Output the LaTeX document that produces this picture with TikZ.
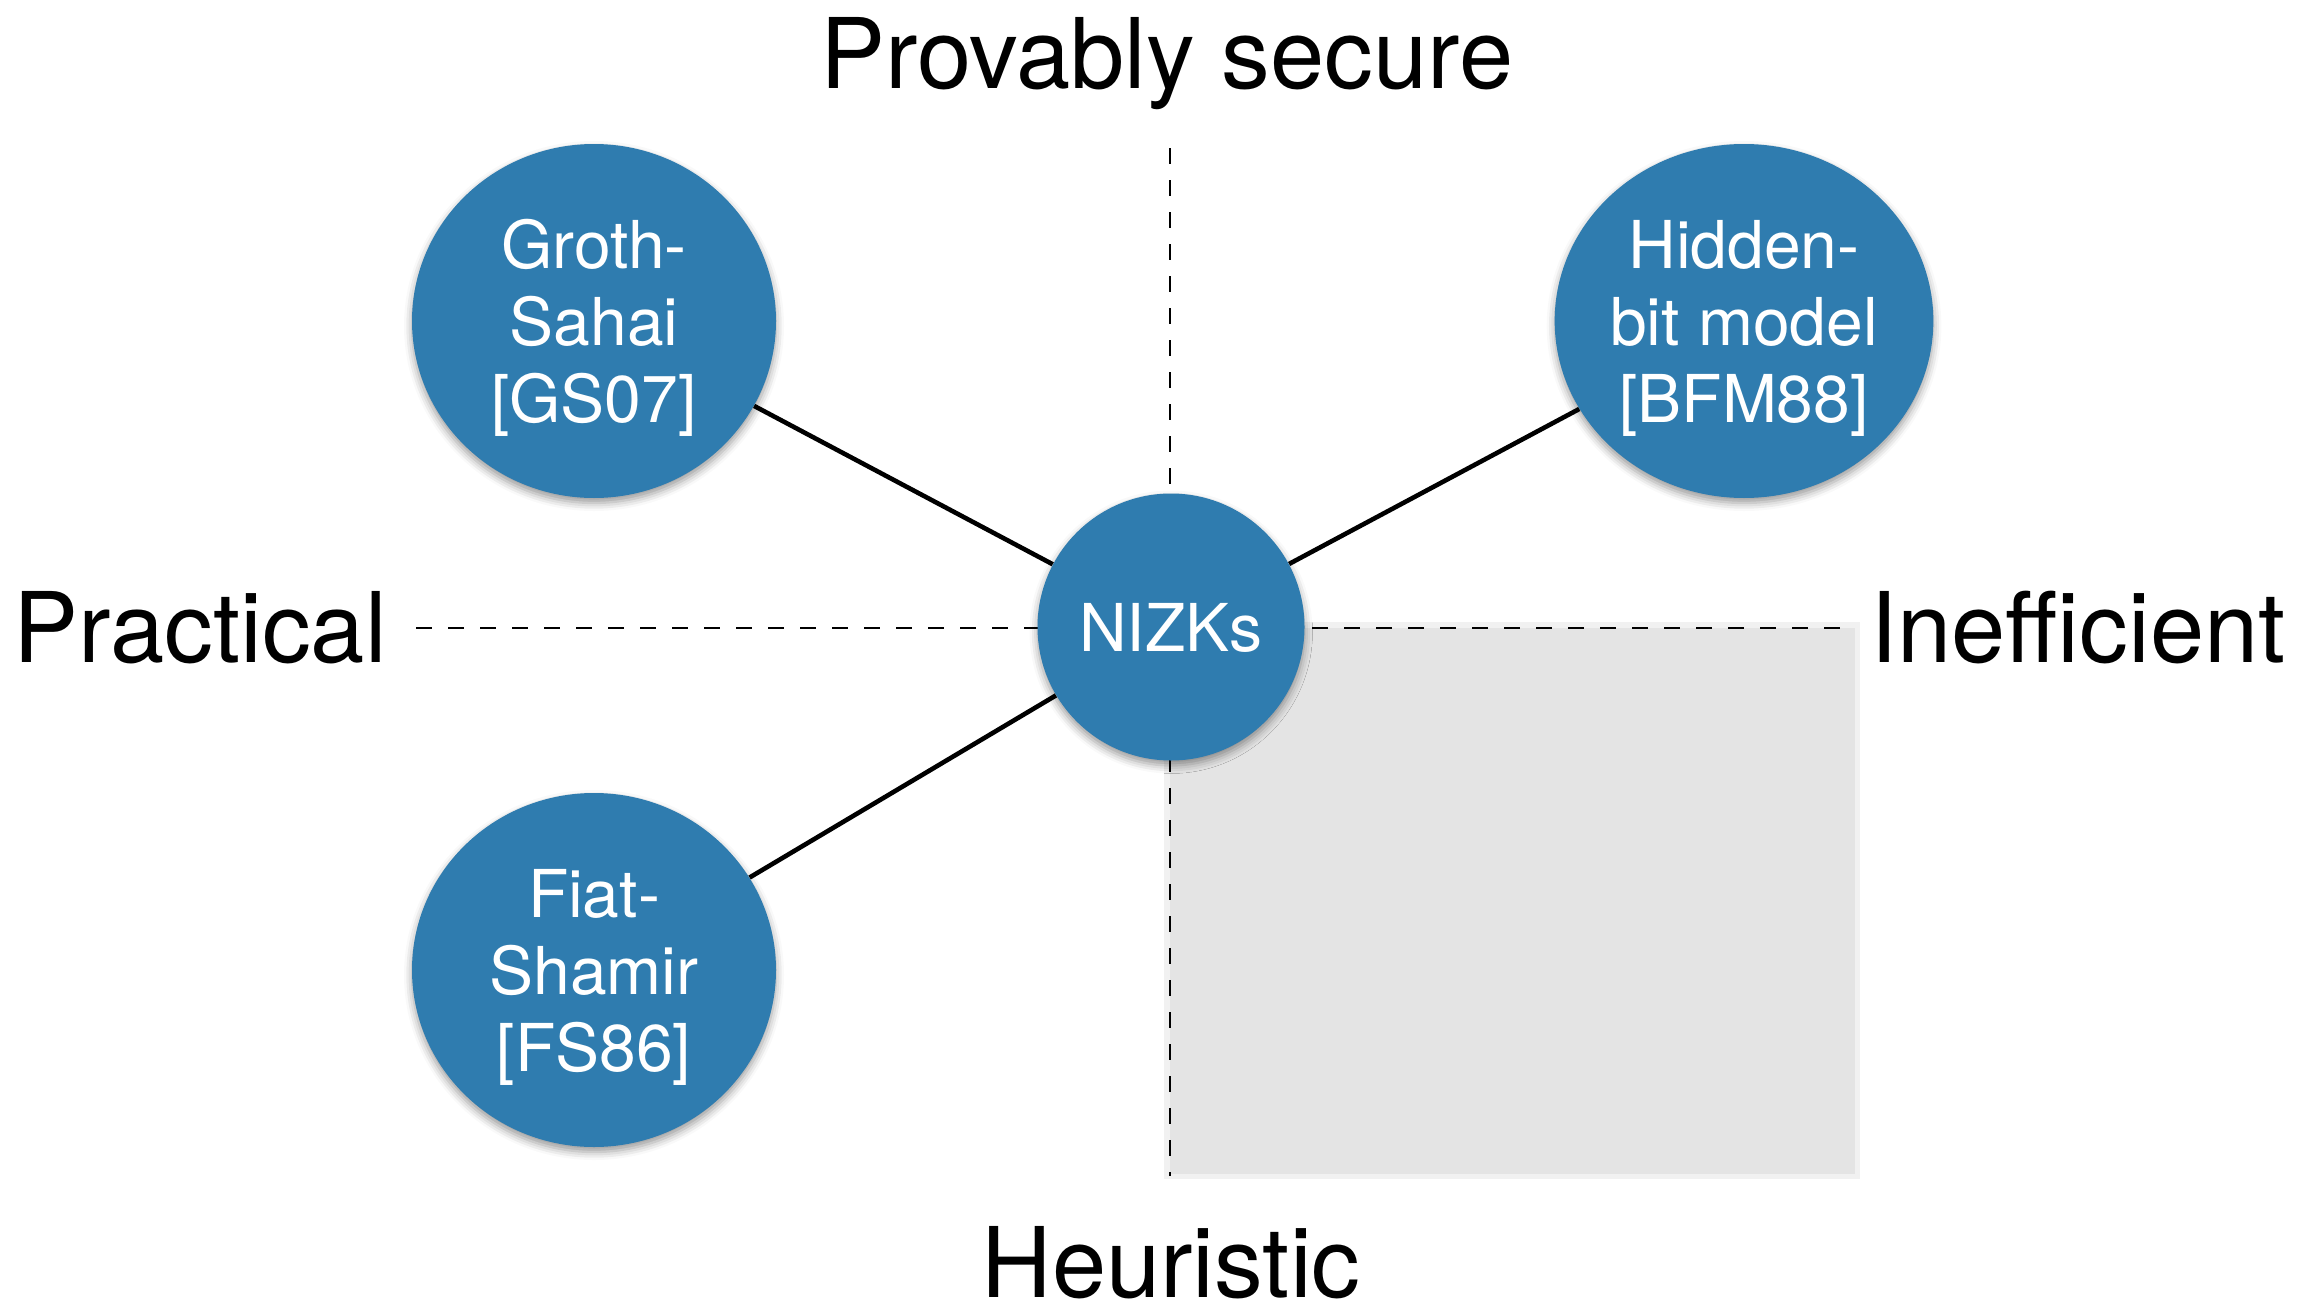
\documentclass[tikz,border=0pt]{standalone}
\usepackage{fontspec}
\setmainfont{TeX Gyre Heros}
\usetikzlibrary{shapes.geometric,shadows.blur}
\definecolor{nodeblue}{RGB}{47,124,175}
\definecolor{quadgray}{RGB}{228,228,228}
\definecolor{quadedge}{RGB}{241,241,241}
\begin{document}
\begin{tikzpicture}[x=0.5pt,y=-0.5pt,
  bubble/.style={ellipse, fill=nodeblue, text=white, inner sep=0pt, align=center,
    font=\fontsize{33}{38.5}\selectfont, text depth=0pt,
    minimum width=182pt, minimum height=177pt,
    blur shadow={shadow xshift=0pt, shadow yshift=-2.5pt, shadow blur radius=4pt, shadow opacity=40}},
  hub/.style={bubble, minimum width=133.5pt, minimum height=133.5pt},
  axisline/.style={line width=1.35pt, dash pattern=on 8pt off 8pt},
  link/.style={line width=2.3pt, black},
  axislabel/.style={font=\fontsize{48.75}{58}\selectfont, inner sep=0pt}]
  \useasboundingbox (0,0) rectangle (2317,1311);

  % shaded quadrant (inefficient / heuristic)
  \fill[quadedge] (1164,622) rectangle (1860,1179);
  \fill[quadgray] (1170,628) rectangle (1855,1174);

  % axes
  \coordinate (ytop) at (1170,148);
  \coordinate (ybot) at (1170,1176);
  \coordinate (xleft) at (416,628);
  \coordinate (xright) at (1855,628);
  \draw[axisline] (ytop) -- (ybot);
  \draw[axisline] (xleft) -- (xright);

  % axis labels
  \node[axislabel, anchor=base] (lbltop) at (1167,89) {Provably secure};
  \node[axislabel, anchor=base west] (lblleft) at (13,662) {Practical};
  \node[axislabel, anchor=base west] (lblright) at (1870,662) {Inefficient};
  \node[axislabel, anchor=base] (lblbot) at (1171,1297) {Heuristic};

  % constructions
  \node[hub] (nizk) at (1171,627) {NIZKs};
  \node[bubble] (gs) at (594,321) {Groth-\\Sahai\\{[GS07]}};
  \node[bubble] (hb) at (1744,321) {Hidden-\\bit model\\{[BFM88]}};
  \node[bubble] (fs) at (594,970) {Fiat-\\Shamir\\{[FS86]}};

  % links
  \draw[link] (nizk) -- (gs);
  \draw[link] (nizk) -- (hb);
  \draw[link] (nizk) -- (fs);
\end{tikzpicture}
\end{document}
